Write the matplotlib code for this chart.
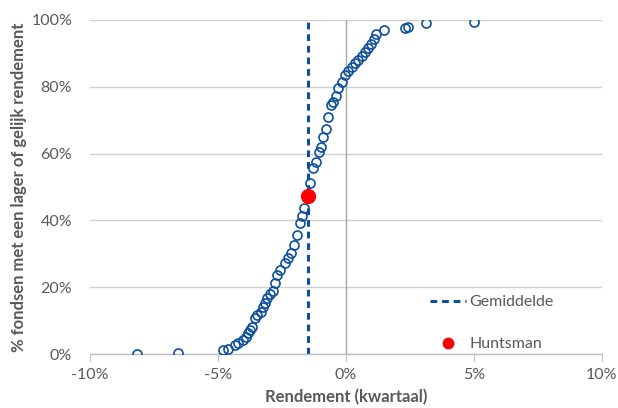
import numpy as np
import matplotlib
matplotlib.use('Agg')
import matplotlib.pyplot as plt
from matplotlib.ticker import FuncFormatter

plt.rcParams['font.family'] = ['Lato', 'DejaVu Sans']

# rendement per fonds (%) en cumulatief aandeel (%)
rendement = [-8.16, -6.56, -4.80, -4.61, -4.34, -4.22, -4.02, -3.91, -3.83, -3.75,
             -3.67, -3.55, -3.48, -3.32, -3.24, -3.16, -3.09, -2.97, -2.85, -2.77,
             -2.70, -2.58, -2.38, -2.27, -2.15, -2.03, -1.91, -1.80, -1.72, -1.64,
             -1.41, -1.29, -1.17, -1.05, -0.98, -0.90, -0.78, -0.70, -0.59, -0.51,
             -0.39, -0.31, -0.16, -0.04, 0.08, 0.23, 0.35, 0.47, 0.63, 0.74,
             0.86, 0.98, 1.09, 1.17, 1.48, 2.30, 2.42, 3.13, 5.00]
aandeel = [0.0, 0.4, 1.2, 1.5, 2.7, 3.3, 4.2, 5.1, 6.3, 7.2,
           8.1, 10.8, 11.7, 12.6, 14.1, 15.3, 16.8, 18.0, 18.9, 21.3,
           23.7, 25.1, 27.2, 28.7, 30.2, 32.6, 35.6, 39.2, 41.3, 43.7,
           51.2, 55.7, 57.5, 60.5, 62.0, 65.0, 67.4, 71.0, 74.6, 75.4,
           77.2, 79.6, 81.4, 83.5, 84.7, 85.9, 87.1, 88.0, 89.2, 90.4,
           91.6, 92.8, 94.3, 95.8, 97.0, 97.6, 97.9, 99.1, 99.4]
gemiddelde = -1.5
huntsman_x = -1.48
huntsman_y = 47.3

fig = plt.figure(figsize=(6.18, 4.08), dpi=100)
ax = fig.add_axes([0.146, 0.132, 0.828, 0.819])

grijs = '#595959'
ax.set_xlim(-10, 10)
ax.set_ylim(0, 100)
ax.set_yticks(np.arange(0, 101, 20))
ax.set_xticks([-10, -5, 0, 5, 10])
ax.yaxis.set_major_formatter(FuncFormatter(lambda v, p: '%d%%' % v))
ax.xaxis.set_major_formatter(FuncFormatter(lambda v, p: '%d%%' % v))
ax.grid(axis='y', color='#D0D0D0', linewidth=1.0, zorder=0)
ax.set_axisbelow(True)
for s in ['top', 'right', 'left']:
    ax.spines[s].set_visible(False)
ax.spines['bottom'].set_color('#BFBFBF')
ax.spines['bottom'].set_linewidth(1.0)
ax.axvline(0, color='#A6A6A6', linewidth=1.0, zorder=1)
ax.tick_params(axis='x', colors=grijs, labelsize=11.5, length=5, color='#BFBFBF', pad=5)
ax.tick_params(axis='y', colors=grijs, labelsize=11.5, length=0, pad=13)

ax.plot(rendement, aandeel, linestyle='none', marker='o', markersize=6.5,
        markerfacecolor='none', markeredgecolor='#0E4F9C', markeredgewidth=1.2, zorder=3)
ax.axvline(gemiddelde, color='#0E4F9C', linewidth=2.2, linestyle=(0, (2.2, 1.6)),
           label='Gemiddelde', zorder=2)
ax.plot([huntsman_x], [huntsman_y], linestyle='none', marker='o', markersize=10,
        color='#FF0000', label='Huntsman', zorder=4)

leg = ax.legend(loc='lower left', bbox_to_anchor=(0.635, -0.035), frameon=False,
                labelspacing=1.75, handlelength=2.3, handletextpad=0.2, fontsize=11.5,
                markerscale=0.75)
for t in leg.get_texts():
    t.set_color(grijs)

ax.set_xlabel('Rendement (kwartaal)', fontsize=12, fontweight='bold', color=grijs, labelpad=5)
ax.set_ylabel('% fondsen met een lager of gelijk rendement', fontsize=12,
              fontweight='bold', color=grijs, labelpad=3)

fig.savefig('out.png', dpi=100)
